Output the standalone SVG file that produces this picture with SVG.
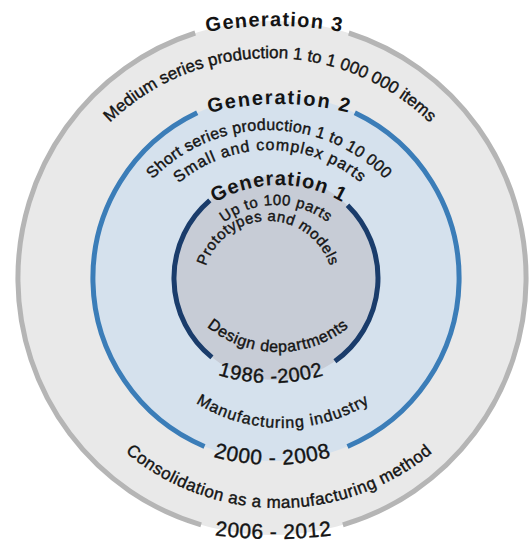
<svg xmlns="http://www.w3.org/2000/svg" xmlns:xlink="http://www.w3.org/1999/xlink" width="530" height="544" viewBox="0 0 530 544">
<style>
.t{font-family:"Liberation Sans",Arial,sans-serif;fill:#141414}
.w{stroke:#141414;stroke-width:0.4}
.title{font-weight:bold;font-size:20px}
.lbl{font-size:16px}
.yr{font-size:21px}
.ring{fill:none;stroke-width:5;stroke-linecap:butt}
</style>
<defs>
<path id="p1" d="M-105.5,406 A380,380 0 0 1 654.5,406"/>
<path id="p2" d="M40,288 A230,230 0 0 1 500,288"/>
<path id="p3" d="M39,268 A240,240 0 0 0 519,268"/>
<path id="p4" d="M-226.5,39 A500,500 0 0 0 773.5,39"/>
<path id="p5" d="M-0.5,384 A280,280 0 0 1 559.5,384"/>
<path id="p6" d="M107,292 A162,162 0 0 1 431,292"/>
<path id="p7" d="M128,292 A142,142 0 0 1 412,292"/>
<path id="p8" d="M119,264 A164,164 0 0 0 447,264"/>
<path id="p9" d="M58.5,251 A214,214 0 0 0 486.5,251"/>
<path id="p10" d="M154,310 A125,125 0 0 1 404,310"/>
<path id="p11" d="M190,291 A86,86 0 0 1 362,291"/>
<path id="p12" d="M203,286 A65,65 0 0 1 333,286"/>
<path id="p13" d="M165,239 A113,113 0 0 0 391,239"/>
<path id="p14" d="M91,203 A180,180 0 0 0 451,203"/>
</defs>
<rect width="530" height="544" fill="#ffffff"/>
<g id="generation3">
<ellipse cx="272" cy="278" rx="254" ry="257" fill="#e9e9e9"/>
<path class="ring" stroke="#b5b5b5" d="M195.2,33 A254,257 0 0 0 201.1,524.8"/>
<path class="ring" stroke="#b5b5b5" d="M348.8,33 A254,257 0 0 1 342.9,524.8"/>
<text class="t title" letter-spacing="1.2"><textPath xlink:href="#p1" href="#p1" startOffset="50%" text-anchor="middle">Generation 3</textPath></text>
<text class="t w" font-size="17"><textPath xlink:href="#p2" href="#p2" startOffset="50%" text-anchor="middle">Medium series production 1 to 1 000 000 items</textPath></text>
<text class="t w" font-size="17" letter-spacing="0.5"><textPath xlink:href="#p3" href="#p3" startOffset="50%" text-anchor="middle">Consolidation as a manufacturing method</textPath></text>
<text class="t w yr" letter-spacing="0.5"><textPath xlink:href="#p4" href="#p4" startOffset="50%" text-anchor="middle">2006 - 2012</textPath></text>
</g>
<g id="generation2">
<circle cx="276" cy="278" r="183" fill="#d5e1ed"/>
<path class="ring" stroke="#3b7db8" d="M197.2,112.8 A183,183 0 0 0 204.5,446.5"/>
<path class="ring" stroke="#3b7db8" d="M354.8,112.8 A183,183 0 0 1 347.5,446.5"/>
<text class="t title" font-size="19" letter-spacing="1.7"><textPath xlink:href="#p5" href="#p5" startOffset="50%" text-anchor="middle">Generation 2</textPath></text>
<text class="t w lbl" letter-spacing="0.3"><textPath xlink:href="#p6" href="#p6" startOffset="50%" text-anchor="middle">Short series production 1 to 10 000</textPath></text>
<text class="t w lbl" letter-spacing="1"><textPath xlink:href="#p7" href="#p7" startOffset="50%" text-anchor="middle">Small and complex parts</textPath></text>
<text class="t w lbl" letter-spacing="1"><textPath xlink:href="#p8" href="#p8" startOffset="50%" text-anchor="middle">Manufacturing industry</textPath></text>
<text class="t w yr" letter-spacing="0.7"><textPath xlink:href="#p9" href="#p9" startOffset="50%" text-anchor="middle">2000 - 2008</textPath></text>
</g>
<g id="generation1">
<circle cx="276" cy="278" r="102" fill="#c7ccd6"/>
<path class="ring" stroke="#1a3c6b" d="M209.8,200.4 A102,102 0 0 0 211.9,357.4"/>
<path class="ring" stroke="#1a3c6b" d="M347.5,205.2 A102,102 0 0 1 334.9,361.2"/>
<text class="t title" font-size="19" letter-spacing="1"><textPath xlink:href="#p10" href="#p10" startOffset="50%" text-anchor="middle">Generation 1</textPath></text>
<text class="t w" font-size="15" letter-spacing="0.6"><textPath xlink:href="#p11" href="#p11" startOffset="50%" text-anchor="middle">Up to 100 parts</textPath></text>
<text class="t w" font-size="15" letter-spacing="0.5"><textPath xlink:href="#p12" href="#p12" startOffset="50%" text-anchor="middle">Prototypes and models</textPath></text>
<text class="t w lbl" letter-spacing="0.6"><textPath xlink:href="#p13" href="#p13" startOffset="50%" text-anchor="middle">Design departments</textPath></text>
<text class="t w" font-size="20" letter-spacing="0.7"><textPath xlink:href="#p14" href="#p14" startOffset="50%" text-anchor="middle">1986 -2002</textPath></text>
</g>
</svg>
